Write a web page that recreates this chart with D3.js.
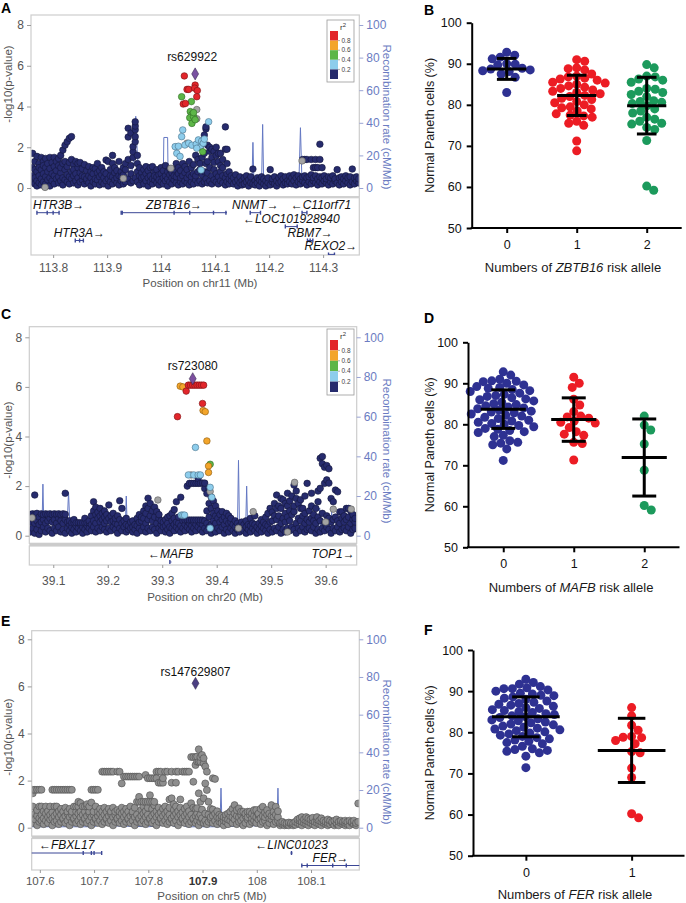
<!DOCTYPE html>
<html><head><meta charset="utf-8">
<script src="https://cdn.jsdelivr.net/npm/d3@7"></script>
<style>body{margin:0;background:#fff;}svg{display:block;}</style>
</head><body><svg id="c" width="686" height="903"></svg>
<script>
// ================= DATA =================
// Locus A (chr11) : [position Mb, -log10 p values of SNPs at that position...]
const locA_navy = [
[113.762,0.3,0.6,1.0,1.7],[113.766,0.2,0.5,0.9,1.3],[113.770,0.35,0.8,1.55,0.1],[113.774,0.25,0.6,1.2,1.0],
[113.778,0.45,0.15,0.9,1.5],[113.782,0.3,0.7,1.3,1.1],[113.786,0.2,0.55,1.0,1.45],[113.790,0.4,0.8,1.2],
[113.794,0.1,0.5,1.5,0.95],[113.798,0.35,0.7,1.25],[113.802,0.2,0.6,1.5,1.05],[113.806,0.45,0.85,1.3],
[113.810,0.25,0.55,1.1,1.45],[113.814,0.35,0.75,1.6,1.0],[113.818,0.15,0.5,1.86,1.2],[113.822,0.4,0.9,2.1,1.3],
[113.826,0.3,0.65,2.27,1.05],[113.830,0.2,0.55,2.44,1.25],[113.834,0.45,0.8,2.52,1.4],[113.838,0.25,0.6,1.15,0.9],
[113.842,0.35,0.7,1.3],[113.846,0.15,0.5,1.0,1.2],[113.850,0.3,0.75,1.25],[113.854,0.4,0.6,0.95],
[113.858,0.2,0.55,1.15],[113.862,0.35,0.85,0.45],[113.866,0.25,0.6,1.05],[113.870,0.1,0.5,0.8],
[113.874,0.3,0.7,1.0],[113.878,0.2,0.45,0.95],[113.882,0.4,0.75,1.2],[113.886,0.15,0.55,0.85],
[113.890,0.3,0.65,1.0],[113.894,0.2,0.5,0.8],[113.898,0.35,0.7,1.37],[113.902,0.1,0.45,1.3],
[113.906,0.3,0.6,0.9],[113.910,0.2,0.55,1.2,1.6],[113.914,0.4,0.75,1.0],[113.918,0.25,0.5,0.85],
[113.922,0.15,0.6,1.3],[113.926,0.35,0.8,0.55],[113.930,0.2,0.65,1.0],[113.934,0.3,0.9,1.2],
[113.939,0.45,1.4,2.5,2.93],[113.944,0.25,0.7,1.1,2.7],[113.948,0.35,1.5,1.78,2.03],[113.952,0.5,2.27,2.52,2.86,3.04,3.25],
[113.956,0.3,0.8,1.2,1.6],[113.960,0.15,0.6,1.0],[113.964,0.4,0.75,0.5],[113.968,0.2,0.55,0.9],
[113.972,0.35,0.7,1.05],[113.976,0.1,0.5,0.85],[113.980,0.3,0.6,1.0],[113.984,0.2,0.45,1.05],
[113.988,0.4,0.75,0.6],[113.992,0.25,0.55,0.9],[113.996,0.15,0.65,0.4],[114.000,0.3,0.7,1.0],
[114.004,0.2,0.5,0.85],[114.008,0.35,0.6,1.1],[114.012,0.1,0.45,0.8],[114.016,0.3,0.65,0.95],
[114.020,0.2,0.5,0.75],[114.024,0.4,0.6,0.9],[114.028,0.25,0.55,1.2],[114.032,0.15,0.7,1.0],
[114.036,0.3,0.5,0.85],[114.040,0.2,0.6,1.2],[114.044,0.35,0.75,1.05],[114.048,0.25,0.5,0.9],
[114.052,0.15,0.65,1.3],[114.056,0.3,0.55,1.0],[114.060,0.2,0.7,1.15],[114.064,0.4,0.6,1.6],
[114.068,0.25,0.8,1.4],[114.072,0.35,0.9,1.2,2.0],[114.076,0.2,0.65,1.5,2.2],[114.080,0.3,0.8,1.7,2.6],
[114.083,0.45,1.2,2.9,3.0],[114.086,0.25,0.75,1.3,2.1],[114.090,0.35,1.0,1.8,2.0],[114.094,0.2,0.6,1.5,1.9],
[114.098,0.4,0.9,1.25,1.8],[114.102,0.3,0.7,1.6,2.0],[114.106,0.2,0.55,1.3,1.7],[114.110,0.35,0.8,1.1,1.7],
[114.114,0.25,0.6,1.0,1.4],[114.119,0.15,0.5,1.9,3.0],[114.122,0.3,0.7,1.2,1.9],[114.126,0.2,0.45,0.8],
[114.130,0.35,0.6],[114.134,0.2,0.5],[114.138,0.3,0.65],[114.142,0.1,0.4],[114.146,0.25,0.55],
[114.150,0.35,0.15],[114.154,0.2,0.5],[114.158,0.3,0.6],[114.162,0.1,0.4],[114.166,0.25,0.55],
[114.170,0.2,0.93],[114.174,0.35,0.15],[114.178,0.25,0.5],[114.182,0.1,0.4],[114.186,0.3,0.55],
[114.190,0.2,0.45],[114.194,0.35,0.1],[114.198,0.25,0.5],[114.202,0.15,0.9],[114.206,0.3,0.45],
[114.210,0.2,0.55],[114.214,0.1,0.35],[114.218,0.25,0.5],[114.222,0.3,0.6],[114.226,0.15,0.45],
[114.230,0.25,0.55],[114.234,0.35,0.2],[114.238,0.3,0.6],[114.242,0.2,0.5],[114.246,0.35,0.65],
[114.250,0.15,0.5],[114.254,0.3,0.6],[114.258,0.2,0.45],[114.262,0.35,0.55,1.4],[114.266,0.25,0.6,1.4],
[114.270,0.15,0.5,1.4],[114.274,0.3,0.55],[114.278,0.2,0.65,1.4],[114.282,0.35,0.5,1.0],[114.286,0.25,0.6,1.0,1.4],
[114.290,0.15,0.45,1.0],[114.294,0.3,0.55,1.4,2.15],[114.298,0.2,0.5,1.0],[114.302,0.35,0.6],[114.306,0.25,0.45],
[114.310,0.15,0.55],[114.314,0.3,0.5],[114.318,0.2,0.6],[114.322,0.35,0.45],[114.326,0.25,0.9],
[114.330,0.15,0.5],[114.334,0.3,0.55],[114.338,0.2,0.45],[114.342,0.35,0.6],[114.346,0.25,0.5],
[114.350,0.15,0.55],[114.354,0.3,0.93],[114.358,0.2,0.5],[114.362,0.35,0.55],[114.366,0.25,0.45]
];
const locA_grey = [[113.785,0.03],[113.930,0.47],[114.018,0.97],[114.066,3.85,3.4],[114.048,2.2],[114.261,1.33]];
const locA_lblue = [[114.088,3.25],[114.040,2.85],[114.038,2.52],[114.026,2.03],[114.029,1.7],[114.035,1.55],[114.032,2.05],
[114.044,2.11],[114.051,2.2],[114.057,2.1],[114.065,2.15],[114.069,2.36],[114.072,2.0],[114.075,2.3],[114.078,2.2],
[114.066,1.95],[114.074,0.88],[114.080,2.4]];
const locA_green = [[114.038,4.48],[114.056,4.24],[114.054,3.75],[114.057,3.6],[114.053,3.45],[114.060,3.5],[114.057,3.17],
[114.063,3.35],[114.060,3.7],[114.077,1.78]];
const locA_red = [[114.043,5.5],[114.048,4.84],[114.051,4.84],[114.063,5.05],[114.062,4.9],[114.067,4.78],[114.066,4.48],
[114.041,4.12],[114.045,4.15]];
const locA_lead = [114.063,5.6];
const locA_recomb = [[113.759,3],[113.77,3],[113.79,2],[113.80,3],[113.81,2],[113.815,4],[113.83,4],[113.835,2],[113.85,3],
[113.87,2],[113.90,3],[113.925,3],[113.93,8],[113.945,8],[113.95,20],[113.953,44],[113.956,20],[113.96,8],[113.98,6],[114.0,5],
[114.004,5],[114.005,31],[114.012,31],[114.013,4],[114.03,3],[114.05,2],[114.06,3],[114.07,6],[114.08,3],[114.10,2],[114.13,2],
[114.168,2],[114.17,28],[114.172,2],[114.186,2],[114.188,39],[114.19,2],[114.22,2],[114.222,6],[114.225,2],[114.255,2],
[114.258,37],[114.261,2],[114.30,2],[114.33,3],[114.367,2]];
// genes: [name, start, end, strand, track row, exons]
const locA_genes = [
["HTR3B",113.770,113.811,1,0,[113.770,113.789,113.800,113.811]],
["HTR3A",113.841,113.856,1,2,[113.841,113.849,113.856]],
["ZBTB16",113.926,114.122,1,0,[113.926,113.928,114.024,114.053,114.097,114.120]],
["NNMT",114.165,114.184,1,0,[114.165,114.184]],
["C11orf71",114.261,114.270,-1,0,[114.261,114.270]],
["LOC101928940",114.230,114.252,-1,1,[114.230,114.252]],
["RBM7",114.271,114.281,1,2,[114.271,114.276,114.281]],
["REXO2",114.310,114.321,1,3,[114.310,114.321]]
];
const locA_ticks = [113.8,113.9,114.0,114.1,114.2,114.3];

// Locus C (chr20)
const locC_navy = [
[39.058,0.15,0.55,0.85],[39.062,0.3,0.7,0.88],[39.066,0.1,0.5,0.85,1.64],[39.070,0.25,0.6,0.9],[39.074,0.05,0.45,0.75],
[39.078,0.2,0.55,0.88],[39.082,0.35,0.65,0.85],[39.086,0.15,0.5,0.88],[39.090,0.3,0.6,0.86],[39.094,0.2,0.7,0.88],
[39.098,0.1,0.55,0.85],[39.102,0.3,0.65,0.88],[39.106,0.2,0.5,0.86],[39.110,0.35,0.7,0.88],[39.114,0.15,0.6,0.85],
[39.118,0.25,0.5,0.88],[39.122,0.1,0.65,0.86,1.71],[39.126,0.3,0.55],[39.130,0.2,0.45,0.6],[39.134,0.1,0.35,0.52],
[39.138,0.25,0.52,0.65],[39.142,0.15,0.4,0.52],[39.146,0.3,0.52],[39.150,0.2,0.45,0.52],[39.154,0.1,0.35,0.52],
[39.158,0.25,0.52,0.7],[39.162,0.15,0.4,0.52],[39.166,0.3,0.52,0.6],[39.170,0.2,0.45,0.8],[39.174,0.35,0.6,1.0,1.37],
[39.178,0.15,0.5,0.85,1.15],[39.182,0.3,0.7,0.95],[39.186,0.2,0.55,0.8,1.1],[39.190,0.35,0.65,0.9],[39.194,0.25,0.5,0.75,1.0],
[39.198,0.15,0.6,0.85],[39.202,0.3,0.7,1.24],[39.206,0.2,0.55,0.8],[39.210,0.35,0.6,0.9],[39.214,0.25,0.5,0.7],
[39.218,0.1,0.45,0.8],[39.222,0.3,0.65,1.41],[39.226,0.2,0.5,1.1],[39.230,0.35,0.6],[39.234,0.15,0.45,0.7],
[39.238,0.25,0.4],[39.242,0.3,0.55],[39.246,0.15,0.35,0.6],[39.250,0.25,0.45],[39.254,0.1,0.4,0.7],
[39.258,0.3,0.55,0.85],[39.262,0.2,0.6,0.75],[39.266,0.35,0.7,1.0],[39.270,0.15,0.5,0.9,1.2],[39.274,0.3,0.65,1.1,1.51],
[39.278,0.2,0.8,1.3],[39.282,0.35,0.6,1.0],[39.286,0.25,0.75,1.15],[39.290,0.1,0.5,0.97],[39.294,0.3,0.7,0.85],
[39.298,0.2,0.45,0.6],[39.302,0.35,0.55],[39.306,0.15,0.4,0.65],[39.310,0.25,0.5,0.75],[39.314,0.1,0.35,0.8],
[39.318,0.3,0.6,0.9],[39.322,0.2,0.45,0.7,1.05],[39.326,0.35,0.55,1.37],[39.330,0.25,0.5,0.75],[39.334,0.15,0.4,1.55],
[39.338,0.3,0.6],[39.342,0.2,0.45,0.63],[39.346,0.35,0.63,2.0],[39.350,0.25,0.5,0.63,2.11],[39.354,0.15,0.4,0.63,2.11],
[39.358,0.3,0.55,0.63,2.11],[39.362,0.2,0.45,0.63,2.11],[39.366,0.35,0.63,2.11,2.31],[39.370,0.25,0.5,0.63,2.11],
[39.374,0.15,0.45,0.63,2.12],[39.378,0.3,0.6,1.9,2.12],[39.382,0.2,0.5,1.0,1.7],[39.386,0.35,0.75,1.3,1.9],
[39.390,0.1,0.45,1.1,1.55],[39.394,0.25,0.6,0.9,1.4],[39.398,0.15,0.5,0.8,1.2],[39.402,0.3,0.7,1.0],[39.406,0.2,0.55,0.85],
[39.410,0.35,0.65,0.97],[39.414,0.1,0.45,0.75],[39.418,0.25,0.6,0.9],[39.422,0.15,0.5,0.8],[39.426,0.3,0.55,0.7],
[39.430,0.2,0.45],[39.434,0.1,0.35,0.6],[39.438,0.25,0.5],[39.442,0.15,0.4],[39.446,0.3,0.55],[39.450,0.2,0.45],
[39.454,0.1,0.35,0.6],[39.458,0.25,0.45],[39.462,0.15,0.4,0.7],[39.466,0.3,0.5],[39.470,0.2,0.45,0.8],[39.474,0.1,0.35],
[39.478,0.25,0.5],[39.482,0.15,0.4,0.65],[39.486,0.3,0.55],[39.490,0.2,0.45,0.75],[39.494,0.1,0.4,0.9],[39.498,0.25,0.55,1.1],
[39.502,0.15,0.6,0.95],[39.506,0.3,0.8,1.3],[39.510,0.2,0.65,1.64,1.1],[39.514,0.35,0.8,1.2],[39.518,0.1,0.5,1.1,1.5],
[39.522,0.25,0.7,1.45],[39.526,0.15,0.55,1.3,0.9],[39.530,0.3,0.75,1.71,1.2],[39.534,0.2,0.6,1.4,1.0],[39.538,0.35,0.85,1.6],
[39.542,0.25,0.97,1.2,2.04],[39.546,0.1,0.5,1.5,1.8],[39.550,0.3,0.7,1.3],[39.554,0.2,0.6,1.1,1.45],[39.558,0.35,0.8,1.1],
[39.562,0.15,0.5,0.9,1.6],[39.566,0.25,0.65,2.11],[39.570,0.3,0.55,1.0],[39.574,0.2,0.7,1.71,1.2],[39.578,0.35,0.6,0.85],
[39.582,0.1,0.5,1.1],[39.586,0.25,0.75,1.37,1.8],[39.590,0.15,0.6,1.91,3.12],[39.594,0.3,0.9,2.9,3.19],[39.598,0.2,0.5,2.11,2.76],
[39.602,0.35,0.8,2.25,2.83],[39.606,0.25,0.7,2.12,2.7],[39.610,0.1,0.55,1.5],[39.614,0.3,0.65,1.37],[39.618,0.2,0.75,1.84],
[39.622,0.35,0.6,1.77],[39.626,0.15,0.5,0.96],[39.630,0.25,0.7,0.96],[39.634,0.3,0.55,0.8],[39.638,0.2,0.65,1.1],
[39.642,0.35,0.75,1.1],[39.646,0.1,0.5,1.0],[39.650,0.25,0.66,0.85],[39.654,0.3,0.55,0.7]
];
const locC_grey = [[39.061,0.72],[39.292,1.44],[39.353,2.45],[39.388,1.78],[39.467,0.97],[39.543,2.15],[39.614,1.07],
[39.647,1.07],[39.600,0.55],[39.530,0.15],[39.440,0.3]];
const locC_lblue = [[39.361,3.56],[39.348,2.45],[39.358,2.45],[39.366,2.45],[39.370,2.45],[39.388,1.95],[39.391,1.55],
[39.335,0.83],[39.338,0.83],[39.341,0.83],[39.388,0.3]];
const locC_green = [[39.388,2.88]];
const locC_orange = [[39.333,6.03],[39.338,6.0],[39.375,5.05],[39.379,5.0],[39.382,3.82],[39.385,2.81],[39.385,2.55]];
const locC_red = [[39.328,4.8],[39.344,5.83],[39.374,5.33],[39.348,6.07],[39.352,6.07],[39.356,6.07],[39.360,6.07],
[39.364,6.07],[39.368,6.07],[39.372,6.07],[39.376,6.07]];
const locC_lead = [39.356,6.33];
const locC_recomb = [[39.056,2],[39.075,1],[39.079,1],[39.081,26],[39.083,1],[39.10,2],[39.125,2],[39.128,22],[39.131,2],
[39.16,1],[39.20,2],[39.232,2],[39.234,20],[39.236,2],[39.28,1],[39.30,2],[39.33,1],[39.36,2],[39.40,1],[39.438,2],[39.44,38],
[39.442,2],[39.453,2],[39.455,25],[39.457,2],[39.50,1],[39.55,2],[39.587,2],[39.589,14],[39.591,2],[39.609,2],[39.611,12],
[39.613,2],[39.657,2]];
const locC_genes = [["MAFB",39.314,39.317,-1,0,[39.314]],["TOP1",39.660,39.750,1,0,[]]];
const locC_ticks = [39.1,39.2,39.3,39.4,39.5,39.6];

// Locus E (chr5) - no LD information
const locE_grey = [
[107.587,0.2,0.45,0.9,1.46,1.61],[107.591,0.35,0.6,1.61],[107.595,0.1,0.5,0.75,1.61],[107.599,0.25,0.4,0.9,1.61],
[107.603,0.3,0.55,0.9,1.61],[107.607,0.15,0.4,0.7],[107.611,0.3,0.6,0.9],[107.615,0.2,0.45,0.7],[107.619,0.35,0.55,0.9],
[107.623,0.1,0.4,0.65,1.61],[107.627,0.25,0.5,0.9,1.61],[107.631,0.3,0.6,0.9,1.61],[107.635,0.15,0.45,0.7,1.61],
[107.639,0.25,0.55,0.8,1.61],[107.643,0.35,0.4,0.68,1.61],[107.647,0.2,0.5,0.85,1.61],[107.651,0.3,0.6,0.68,1.61],
[107.655,0.1,0.45,0.8,1.61],[107.659,0.25,0.55,0.68,1.61],[107.663,0.35,0.4,0.9],[107.667,0.2,0.5,0.68,0.9],
[107.671,0.3,0.6,0.9,1.1],[107.675,0.15,0.45,0.68,1.05],[107.679,0.25,0.55,0.9],[107.683,0.35,0.4,0.68,0.9],
[107.687,0.2,0.5,0.9,1.0],[107.691,0.3,0.6,0.68,0.9],[107.695,0.1,0.45,1.07,1.61],[107.699,0.25,0.55,0.68,1.61],
[107.703,0.35,0.4,0.9,1.61],[107.707,0.2,0.5,0.68,1.61],[107.711,0.3,0.6,0.8],[107.715,0.15,0.45,0.68,2.38],
[107.719,0.25,0.55,0.85,2.38],[107.723,0.35,0.4,0.68,2.38],[107.727,0.2,0.5,0.8,2.38],[107.731,0.3,0.6,0.68,2.38],
[107.735,0.1,0.45,0.85,2.38],[107.739,0.25,0.55,0.68],[107.743,0.35,0.4,0.75,2.38],[107.747,0.2,0.5,0.68,2.38],
[107.751,0.3,0.6,0.85,1.88],[107.755,0.15,0.45,0.68,2.17],[107.759,0.25,0.55,0.8,2.17],[107.763,0.35,0.4,0.68,2.17],
[107.767,0.2,0.5,0.9,2.17],[107.771,0.3,0.6,0.68,2.17],[107.775,0.1,0.45,0.85,2.17],[107.779,0.25,0.55,1.1,2.17],
[107.783,0.35,0.4,1.1,1.31,2.17],[107.787,0.2,0.5,0.75,1.1],[107.791,0.3,0.6,0.9,1.1],[107.795,0.15,0.45,0.7,1.1,2.24],
[107.799,0.25,0.55,0.85,1.1,2.1],[107.803,0.35,0.4,1.1,1.38,2.1],[107.807,0.2,0.5,0.8,1.1,2.1],[107.811,0.3,0.6,0.95,1.1,2.1],
[107.815,0.1,0.45,0.7,2.38,2.1],[107.819,0.25,0.55,0.85,1.91,2.38],[107.823,0.35,0.4,0.65,1.91,2.38],[107.827,0.2,0.5,0.8,1.91,2.1],
[107.831,0.3,0.6,0.9,2.38],[107.835,0.15,0.45,0.7,2.38],[107.839,0.25,0.55,0.85,1.2],[107.843,0.35,0.4,1.25,1.91,2.38],
[107.847,0.2,0.5,0.75,1.0],[107.851,0.3,0.6,0.9,1.91,2.38],[107.855,0.1,0.45,0.7,2.38],[107.859,0.25,0.55,0.85,1.2],
[107.863,0.35,0.4,0.65,2.38],[107.867,0.2,0.5,0.8,2.38],[107.871,0.3,0.6,0.9,2.38],[107.875,0.15,0.45,0.7,2.38],
[107.879,0.25,0.55,1.04,3.0],[107.883,0.35,0.4,0.85,1.95,3.0],[107.887,0.2,0.5,0.8,2.66,3.0],[107.890,0.3,0.6,0.83,2.8,3.02],
[107.893,0.1,0.45,1.46,2.8,3.33],[107.896,0.25,0.55,1.1,2.8,3.0],[107.899,0.35,0.4,0.77,3.09],[107.902,0.2,1.25,2.73,2.95],
[107.905,0.3,0.6,1.88,2.6],[107.908,0.15,1.6,2.38],[107.911,0.25,0.56,1.1],[107.915,0.35,0.45,0.8],[107.919,0.2,0.5,0.77,2.1],
[107.923,0.3,0.6,2.07],[107.927,0.15,0.45,0.7],[107.931,0.25,0.55,0.4],[107.935,0.35,0.2,0.5],[107.939,0.1,0.3,0.45],
[107.943,0.25,0.4,0.55],[107.947,0.15,0.35,0.6],[107.951,0.3,0.5,0.68],[107.955,0.2,0.45,0.8],[107.959,0.35,0.6,0.96],
[107.963,0.15,0.5,0.75],[107.967,0.25,0.45,0.82],[107.971,0.3,0.55,0.68],[107.975,0.1,0.4,0.68],[107.979,0.2,0.5,0.6],
[107.983,0.35,0.45,0.68],[107.987,0.15,0.55,0.68],[107.991,0.25,0.4,0.6],[107.995,0.3,0.5,0.75],[107.999,0.2,0.45,0.75],
[108.003,0.35,0.55,0.6],[108.007,0.15,0.4,0.8],[108.011,0.25,0.5,0.89],[108.015,0.3,0.45,0.65],[108.019,0.1,0.55,0.75],
[108.023,0.2,0.4,0.6],[108.027,0.35,0.5,0.96],[108.031,0.15,0.47,0.68],[108.035,0.25,0.55,0.89],[108.039,0.3,0.45,0.7],
[108.043,0.1,0.2],[108.047,0.15,0.25],[108.051,0.1,0.2],[108.055,0.12,0.18],[108.059,0.1,0.22],[108.063,0.15,0.2],
[108.067,0.1,0.18],[108.071,0.12,0.25],[108.075,0.2,0.35],[108.079,0.15,0.3,0.4],[108.083,0.1,0.25,0.45],[108.087,0.2,0.35],
[108.091,0.15,0.3,0.45],[108.095,0.1,0.25,0.4],[108.099,0.2,0.35],[108.103,0.15,0.3,0.42],[108.107,0.1,0.25],
[108.111,0.2,0.35,0.45],[108.115,0.15,0.3],[108.119,0.1,0.25,0.4],[108.123,0.2,0.3],[108.127,0.15,0.25],[108.131,0.1,0.2,0.35],
[108.135,0.15,0.3],[108.139,0.2,0.25],[108.143,0.1,0.3],[108.147,0.15,0.2,0.35],[108.151,0.1,0.25],[108.155,0.2,0.3],
[108.159,0.15,0.25],[108.163,0.1,0.2,0.3],[108.167,0.15,0.25],[108.171,0.1,0.3],[108.175,0.2,0.25],[108.179,0.15,0.3],
[108.183,0.1,0.2],[108.187,0.25,1.03]
];
const locE_lead = [107.887,6.13];
const locE_recomb = [[107.585,0.5],[107.70,0.5],[107.715,2],[107.73,1],[107.80,0.5],[107.84,1.5],[107.85,0.5],[107.86,2],
[107.87,0.5],[107.932,0.5],[107.934,21],[107.936,0.5],[107.98,1],[108.02,1],[108.025,5],[108.028,1],[108.037,1],[108.039,21],
[108.041,1],[108.045,4],[108.048,1],[108.06,0.5],[108.189,0.5]];
const locE_genes = [["FBXL17",107.45,107.714,-1,0,[107.68,107.695,107.70,107.714]],["LINC01023",108.062,108.066,-1,0,[108.064]],
["FER",108.083,108.35,1,1,[108.083,108.093,108.14,108.165]]];
const locE_ticks = [107.6,107.7,107.8,107.9,108.0,108.1];

// Dot plots: Normal Paneth cells (%) by number of risk alleles
const B_cats = ["0","1","2"];
const B_g0 = [92.8,92.1,91.6,91.2,90.0,89.9,89.7,88.9,88.7,88.5,88.3,88.1,87.5,86.7,83.0];
const B_g1 = [91.0,90.6,89.0,88.8,88.5,87.5,87.0,86.8,86.5,86.3,86.0,85.5,85.3,85.0,84.6,84.3,84.0,83.6,83.3,83.0,82.7,82.3,
82.0,81.6,81.3,80.8,80.5,80.0,79.5,79.3,79.0,78.5,77.8,77.5,77.3,77.0,76.0,75.5,75.0,71.2,68.8];
const B_g2 = [89.8,89.0,87.0,86.8,86.3,86.0,85.5,84.0,83.8,83.3,83.0,82.5,82.0,81.0,80.8,80.6,80.3,79.8,79.0,78.5,78.0,77.0,
76.5,76.0,75.5,75.3,74.5,74.0,71.3,60.2,59.2];
const B_mean = [88.75,82.3,79.8];
const B_sd = [2.55,4.9,6.9];

const D_cats = ["0","1","2"];
const D_g0 = [92.8,92.0,91.0,90.6,90.5,90.4,90.0,89.6,89.2,89.0,88.8,88.5,88.2,88.0,87.6,87.3,87.0,86.8,86.5,86.2,86.0,85.7,
85.4,85.0,84.8,84.5,84.2,84.0,83.8,83.5,83.2,83.0,82.8,82.5,82.2,82.0,81.7,81.4,81.0,80.8,80.5,80.2,80.0,79.7,79.4,79.0,78.8,
78.5,78.2,78.0,77.3,77.0,76.0,75.6,75.4,75.0,74.0,71.2];
const D_g1 = [91.5,90.0,89.0,86.1,84.7,83.1,82.0,81.8,81.5,80.8,80.5,80.3,79.2,78.2,77.6,77.3,75.6,75.3,71.3];
const D_g2 = [82.0,79.8,78.6,75.2,68.8,60.2,59.1];
const D_mean = [83.7,81.15,71.9];
const D_sd = [4.7,5.3,9.4];

const F_cats = ["0","1"];
const F_g0 = [92.9,92.1,91.7,91.1,90.8,90.6,90.6,90.3,90.0,89.5,89.3,89.0,88.9,88.6,88.3,88.0,87.6,87.3,87.0,86.8,86.6,86.3,
86.0,85.8,85.5,85.3,85.0,84.8,84.5,84.3,84.0,83.8,83.6,83.3,83.0,82.8,82.5,82.3,82.0,81.8,81.5,81.2,81.0,80.8,80.6,80.4,80.1,
79.8,79.6,79.3,79.0,78.7,78.4,78.1,77.8,77.5,77.2,76.6,76.0,75.8,75.6,75.4,75.0,74.2,71.4];
const F_g1 = [86.0,84.0,81.7,80.5,79.0,78.8,78.7,78.0,77.2,75.3,75.0,71.3,69.0,60.2,59.2];
const F_mean = [83.75,75.6];
const F_sd = [4.85,7.8];

const yTicksDots = [50,60,70,80,90,100];
const yTicksLocus = [0,2,4,6,8];
const yTicksRecomb = [0,20,40,60,80,100];
const r2Labels = ["0.8","0.6","0.4","0.2"];

// ================= DRAWING =================
const FONT = '"Liberation Sans", Arial, Helvetica, sans-serif';
const svg = d3.select('#c').style('font-family', FONT);
const COL = {navy:'#262b6d', navyS:'#14173d', lblue:'#8dcdec', lblueS:'#4a7088', green:'#5db648', greenS:'#2f6a25',
  orange:'#f3a52b', orangeS:'#8a5a10', red:'#e2262b', redS:'#7a1214', grey:'#a3a3a3', greyS:'#5a5a5a', recomb:'#6478c3',
  axisR:'#6b7cc2', axisText:'#555', gene:'#3b4796'};

function flat(groups){ return groups.flatMap(g => g.slice(1).map(v => ({pos:g[0], v:v}))); }

function drawLocus(o){
  const g = svg.append('g');
  const x = d3.scaleLinear().domain(o.domain).range([o.left, o.right]);
  const y = d3.scaleLinear().domain([0,8]).range([o.y0, o.y8]);
  const yr = d3.scaleLinear().domain([0,100]).range([o.y0, o.y8]);
  const defs = svg.append('defs');
  defs.append('clipPath').attr('id','pc'+o.id).append('rect')
    .attr('x',o.left).attr('y',o.top).attr('width',o.right-o.left).attr('height',o.bottom-o.top);
  defs.append('clipPath').attr('id','gc'+o.id).append('rect')
    .attr('x',o.left).attr('y',o.geneTop).attr('width',o.right-o.left).attr('height',o.geneBottom-o.geneTop);

  g.append('path').datum(o.recomb).attr('clip-path','url(#pc'+o.id+')')
    .attr('fill','none').attr('stroke',COL.recomb).attr('stroke-width',1)
    .attr('d', d3.line().x(d=>x(d[0])).y(d=>yr(d[1])));

  const pg = g.append('g').attr('clip-path','url(#pc'+o.id+')');
  o.layers.forEach(L => {
    pg.selectAll(null).data(flat(L.data)).join('circle')
      .attr('cx',d=>x(d.pos)).attr('cy',d=>y(d.v)).attr('r',o.r)
      .attr('fill',L.fill).attr('stroke',L.stroke).attr('stroke-width',0.6);
  });
  pg.append('path').attr('d', d3.symbol(d3.symbolDiamond, 42)())
    .attr('transform','translate('+x(o.lead[0])+','+y(o.lead[1])+')')
    .attr('fill',o.leadColor).attr('stroke','#2a2040').attr('stroke-width',0.5);
  g.append('text').attr('x',x(o.lead[0])+o.labelDx).attr('y',y(o.lead[1])+o.labelDy)
    .attr('text-anchor','middle').attr('font-size',12).attr('fill','#111').text(o.leadName);

  g.append('rect').attr('x',o.left).attr('y',o.top).attr('width',o.right-o.left).attr('height',o.bottom-o.top)
    .attr('fill','none').attr('stroke','#cdcdcd').attr('stroke-width',1.2);
  if (o.band) g.append('rect').attr('x',o.left).attr('y',o.bottom).attr('width',o.right-o.left).attr('height',o.band)
    .attr('fill','#cbcbcb');
  g.append('rect').attr('x',o.left).attr('y',o.geneTop).attr('width',o.right-o.left).attr('height',o.geneBottom-o.geneTop)
    .attr('fill','none').attr('stroke','#cdcdcd').attr('stroke-width',1.2);

  // genes
  const gg = g.append('g');
  const labels = [];
  o.genes.forEach(gn => {
    const ly = o.geneTop + o.geneRow0 + gn[4]*o.geneRowH;
    const gl = gg.append('g').attr('clip-path','url(#gc'+o.id+')');
    gl.append('line').attr('x1',x(gn[1])).attr('x2',x(gn[2])).attr('y1',ly).attr('y2',ly)
      .attr('stroke',COL.gene).attr('stroke-width',1);
    gn[5].forEach(e => gl.append('line').attr('x1',x(e)).attr('x2',x(e)).attr('y1',ly-2).attr('y2',ly+2)
      .attr('stroke',COL.gene).attr('stroke-width',1.4));
    const t = gg.append('text').attr('font-style','italic').attr('font-size',12).attr('fill','#111')
      .attr('y', ly-4).attr('text-anchor','middle')
      .text(gn[3] > 0 ? gn[0]+'\u2192' : '\u2190'+gn[0]);
    const w = t.node().getComputedTextLength();
    const cx = (x(Math.max(gn[1],o.domain[0])) + x(Math.min(gn[2],o.domain[1])))/2;
    labels.push({t:t, w:w, cx:cx, row:gn[4]});
  });
  // simple label de-overlap per row: push right, then keep inside frame
  d3.groups(labels, d=>d.row).forEach(([row, arr]) => {
    arr.sort((a,b)=>a.cx-b.cx);
    let prevEnd = -1e9;
    arr.forEach(L => {
      let c = Math.max(L.cx, prevEnd + 12 + L.w/2);
      c = Math.max(o.left+2+L.w/2, Math.min(o.right-2-L.w/2, c));
      L.t.attr('x', c);
      prevEnd = c + L.w/2;
    });
  });

  const la = g.append('g').attr('transform','translate('+o.left+',0)')
    .call(d3.axisLeft(y).tickValues(yTicksLocus).tickSize(4).tickPadding(3));
  la.select('.domain').remove();
  la.selectAll('.tick line').attr('stroke','#999');
  la.selectAll('.tick text').attr('fill',COL.axisText).attr('font-size',12).attr('font-family',FONT);
  const ra = g.append('g').attr('transform','translate('+o.right+',0)')
    .call(d3.axisRight(yr).tickValues(yTicksRecomb).tickSize(4).tickPadding(3));
  ra.select('.domain').remove();
  ra.selectAll('.tick line').attr('stroke','#99a3d4');
  ra.selectAll('.tick text').attr('fill',COL.axisR).attr('font-size',12).attr('font-family',FONT);
  const isBold = d => (o.boldTick !== undefined && Math.abs(d-o.boldTick)<1e-9);
  const ba = g.append('g').attr('transform','translate(0,'+o.geneBottom+')')
    .call(d3.axisBottom(x).tickValues(o.ticks).tickSize(3).tickPadding(o.tickPad).tickFormat(d=>String(+d.toFixed(1))));
  ba.select('.domain').remove();
  ba.selectAll('.tick line').attr('stroke','#999');
  ba.selectAll('.tick text').attr('font-size',o.tickFont).attr('font-family',FONT)
    .attr('font-weight', d => isBold(d) ? 'bold' : 'normal')
    .attr('fill', d => isBold(d) ? '#333' : COL.axisText);

  g.append('text').attr('x',o.titleX).attr('y',o.titleY).attr('text-anchor','middle')
    .attr('font-size',11.5).attr('fill',COL.axisText).text(o.title);
  g.append('text').attr('transform','translate(8,'+o.ylabY+') rotate(-90)').attr('text-anchor','middle')
    .attr('dominant-baseline','central').attr('font-size',11.5).attr('fill',COL.axisText).text('-log10(p-value)');
  g.append('text').attr('transform','translate(387,'+o.rlabY+') rotate(90)').attr('text-anchor','middle')
    .attr('dominant-baseline','central').attr('font-size',11.5).attr('fill',COL.axisR).text('Recombination rate (cM/Mb)');

  if (o.legend) {
    const L = o.legend;
    const lg = g.append('g');
    lg.append('rect').attr('x',L.x).attr('y',L.y).attr('width',27).attr('height',L.h)
      .attr('fill','#fff').attr('stroke','#9a9a9a').attr('stroke-width',0.8);
    const cols = [COL.red, COL.orange, COL.green, COL.lblue, COL.navy];
    const bh = (L.h-14)/5;
    cols.forEach((c,i) => lg.append('rect').attr('x',L.x+3).attr('y',L.y+11+i*bh).attr('width',8).attr('height',bh).attr('fill',c));
    r2Labels.forEach((t,i) => {
      const yy = L.y+11+(i+1)*bh;
      lg.append('line').attr('x1',L.x+11).attr('x2',L.x+13).attr('y1',yy).attr('y2',yy).attr('stroke','#777').attr('stroke-width',0.6);
      lg.append('text').attr('x',L.x+14.5).attr('y',yy+2.2).attr('font-size',6.5).attr('fill','#444').text(t);
    });
    const rt = lg.append('text').attr('x',L.x+13).attr('y',L.y+10).attr('font-size',8).attr('fill','#333');
    rt.append('tspan').text('r');
    rt.append('tspan').attr('dy',-3).attr('font-size',6).text('2');
  }
  svg.append('text').attr('x',o.letterX).attr('y',o.letterY).attr('font-size',14).attr('font-weight','bold')
    .attr('fill','#000').text(o.letter);
}

function swarm(vals, y, r){
  const sorted = vals.slice().sort((a,b)=>b-a);
  const placed = [];
  const d2 = Math.pow(2*r*0.9, 2);
  sorted.forEach(v => {
    const cy = y(v);
    let dx = 0;
    for (let k=0; k<600; k++){
      const off = (k%2===1 ? 1 : -1) * Math.ceil(k/2) * 0.5;
      if (placed.every(p => (p.dx-off)*(p.dx-off) + (p.cy-cy)*(p.cy-cy) >= d2)) { dx = off; break; }
    }
    placed.push({dx:dx, cy:cy});
  });
  return placed;
}

function drawDots(o){
  const g = svg.append('g');
  const x = d3.scalePoint().domain(o.cats).range([o.axisX, o.xEnd]).padding(0.5);
  const y = d3.scaleLinear().domain([50,100]).range([o.yBottom, o.yTop]);
  const step = x.step();
  o.groups.forEach((vals,i) => {
    const cx = x(o.cats[i]);
    g.selectAll(null).data(swarm(vals, y, o.r)).join('circle')
      .attr('cx',d=>cx+d.dx).attr('cy',d=>d.cy).attr('r',o.r).attr('fill',o.colors[i]);
  });
  o.cats.forEach((c,i) => {
    const cx = x(c), m = o.mean[i], s = o.sd[i];
    const mw = step*o.meanW, cw = step*o.capW;
    const st = l => l.attr('stroke','#000').attr('stroke-width',3);
    st(g.append('line').attr('x1',cx-mw).attr('x2',cx+mw).attr('y1',y(m)).attr('y2',y(m)));
    st(g.append('line').attr('x1',cx).attr('x2',cx).attr('y1',y(m-s)).attr('y2',y(m+s)));
    st(g.append('line').attr('x1',cx-cw).attr('x2',cx+cw).attr('y1',y(m-s)).attr('y2',y(m-s)));
    st(g.append('line').attr('x1',cx-cw).attr('x2',cx+cw).attr('y1',y(m+s)).attr('y2',y(m+s)));
  });
  const ya = g.append('g').attr('transform','translate('+o.axisX+',0)')
    .call(d3.axisLeft(y).tickValues(yTicksDots).tickSize(5).tickSizeOuter(0).tickPadding(5));
  ya.select('.domain').attr('stroke','#000').attr('stroke-width',2);
  ya.selectAll('.tick line').attr('stroke','#000').attr('stroke-width',2);
  ya.selectAll('.tick text').attr('fill','#111').attr('font-size',12.5).attr('font-family',FONT);
  const xa = g.append('g').attr('transform','translate(0,'+o.yBottom+')')
    .call(d3.axisBottom(x).tickSize(5).tickSizeOuter(0).tickPadding(7));
  xa.select('.domain').attr('stroke','#000').attr('stroke-width',2).attr('d','M'+(o.axisX-1)+',0H'+o.xEnd);
  xa.selectAll('.tick line').attr('stroke','#000').attr('stroke-width',2);
  xa.selectAll('.tick text').attr('fill','#111').attr('font-size',12.5).attr('font-family',FONT);
  const t = g.append('text').attr('x',o.titleX).attr('y',o.titleY).attr('text-anchor','middle')
    .attr('font-size',13).attr('fill','#1a1a1a');
  t.append('tspan').text('Numbers of ');
  t.append('tspan').attr('font-style','italic').text(o.gene);
  t.append('tspan').text(' risk allele');
  g.append('text').attr('transform','translate(430,'+(o.yBottom+o.yTop)/2+') rotate(-90)')
    .attr('text-anchor','middle').attr('dominant-baseline','central').attr('font-size',12.5).attr('fill','#1a1a1a')
    .text('Normal Paneth cells (%)');
  svg.append('text').attr('x',o.letterX).attr('y',o.letterY).attr('font-size',14).attr('font-weight','bold')
    .attr('fill','#000').text(o.letter);
}

drawLocus({id:'A', letter:'A', letterX:1, letterY:13, domain:[113.759,114.367], left:31, right:359.3, top:15, bottom:196.7,
  y0:188, y8:25, geneTop:197.7, geneBottom:255, geneRow0:15, geneRowH:13.9, tickPad:5, tickFont:12, ticks:locA_ticks,
  title:'Position on chr11 (Mb)', titleX:200, titleY:287, ylabY:84, rlabY:117, r:3.3,
  legend:{x:327, y:20, h:62}, lead:locA_lead, leadName:'rs629922', leadColor:'#7a52a2', labelDx:-3, labelDy:-12.5,
  recomb:locA_recomb, genes:locA_genes,
  layers:[{data:locA_navy, fill:COL.navy, stroke:COL.navyS},{data:locA_grey, fill:COL.grey, stroke:COL.greyS},
    {data:locA_lblue, fill:COL.lblue, stroke:COL.lblueS},{data:locA_green, fill:COL.green, stroke:COL.greenS},
    {data:locA_red, fill:COL.red, stroke:COL.redS}]});

drawLocus({id:'C', letter:'C', letterX:1, letterY:319, domain:[39.056,39.657], left:29.3, right:356.7, top:326.7, bottom:543.3,
  band:2.7, y0:535.7, y8:337.3, geneTop:546, geneBottom:565, geneRow0:16, geneRowH:12, tickPad:8, tickFont:12, ticks:locC_ticks,
  title:'Position on chr20 (Mb)', titleX:205, titleY:601, ylabY:440, rlabY:451, r:3.3,
  legend:{x:327, y:329, h:66}, lead:locC_lead, leadName:'rs723080', leadColor:'#7c4f9f', labelDx:0, labelDy:-8.5,
  recomb:locC_recomb, genes:locC_genes,
  layers:[{data:locC_navy, fill:COL.navy, stroke:COL.navyS},{data:locC_grey, fill:COL.grey, stroke:COL.greyS},
    {data:locC_lblue, fill:COL.lblue, stroke:COL.lblueS},{data:locC_green, fill:COL.green, stroke:COL.greenS},
    {data:locC_orange, fill:COL.orange, stroke:COL.orangeS},{data:locC_red, fill:COL.red, stroke:COL.redS}]});

drawLocus({id:'E', letter:'E', letterX:1, letterY:626, domain:[107.585,108.189], left:31.7, right:359.3, top:630.7, bottom:836,
  band:2.5, y0:827.7, y8:639.3, geneTop:838.5, geneBottom:870, geneRow0:14.5, geneRowH:12.5, tickPad:4, tickFont:11.5, ticks:locE_ticks,
  boldTick:107.9, title:'Position on chr5 (Mb)', titleX:212, titleY:900, ylabY:737, rlabY:752, r:3.5,
  legend:null, lead:locE_lead, leadName:'rs147629807', leadColor:'#4b3f82', labelDx:0, labelDy:-7.5,
  recomb:locE_recomb, genes:locE_genes,
  layers:[{data:locE_grey, fill:'#8e8e8e', stroke:'#4e4e4e'}]});

const BLUE='#2e3192', RED='#ec1c24', GREEN='#1c9a5c';
drawDots({letter:'B', letterX:424, letterY:15, cats:B_cats, groups:[B_g0,B_g1,B_g2], colors:[BLUE,RED,GREEN],
  mean:B_mean, sd:B_sd, axisX:471.7, xEnd:681.7, yTop:22.7, yBottom:228, r:4.5, meanW:0.28, capW:0.14,
  gene:'ZBTB16', titleX:573, titleY:272});
drawDots({letter:'D', letterX:424, letterY:323, cats:D_cats, groups:[D_g0,D_g1,D_g2], colors:[BLUE,RED,GREEN],
  mean:D_mean, sd:D_sd, axisX:468, xEnd:679.5, yTop:342.3, yBottom:547.3, r:4.5, meanW:0.32, capW:0.17,
  gene:'MAFB', titleX:571, titleY:592});
drawDots({letter:'F', letterX:424, letterY:635, cats:F_cats, groups:[F_g0,F_g1], colors:[BLUE,RED],
  mean:F_mean, sd:F_sd, axisX:473, xEnd:684.5, yTop:650, yBottom:855.7, r:4.5, meanW:0.32, capW:0.13,
  gene:'FER', titleX:575, titleY:899});
</script></body></html>
